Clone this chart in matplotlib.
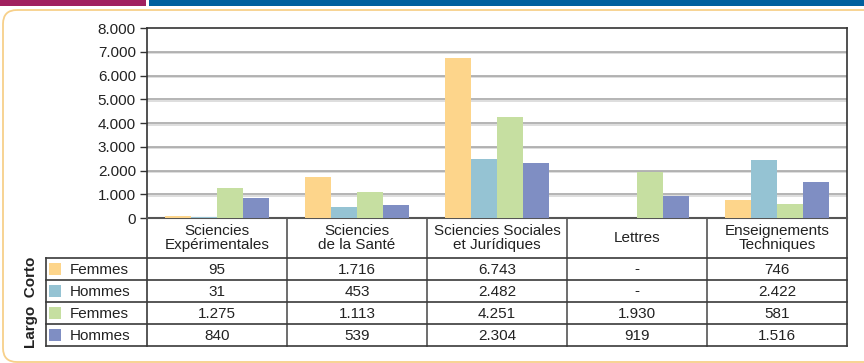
import numpy as np
import matplotlib
matplotlib.use("Agg")
import matplotlib.pyplot as plt
import matplotlib.patheffects as pe
from matplotlib.patches import Rectangle, FancyBboxPatch
from matplotlib.lines import Line2D
from matplotlib.ticker import FuncFormatter, MultipleLocator

plt.rcParams['font.family'] = ['Liberation Sans', 'DejaVu Sans']

categories = ["Sciencies\nExpérimentales", "Sciencies\nde la Santé",
              "Sciencies Sociales\net Jurídiques", "Lettres",
              "Enseignements\nTechniques"]
series_labels = ["Femmes", "Hommes", "Femmes", "Hommes"]
group_label = "Largo  Corto"
corto_femmes = [95, 1716, 6743, np.nan, 746]
corto_hommes = [31, 453, 2482, np.nan, 2422]
largo_femmes = [1275, 1113, 4251, 1930, 581]
largo_hommes = [840, 539, 2304, 919, 1516]
series = [corto_femmes, corto_hommes, largo_femmes, largo_hommes]
colors = ["#FDD58B", "#95C3D3", "#C6DFA1", "#7F8EC3"]
y_max = 8000
y_step = 1000

W, H = 864, 363
fig = plt.figure(figsize=(W / 100, H / 100), dpi=100)
FS = 11

def fmt(v):
    if v is None or (isinstance(v, float) and np.isnan(v)):
        return "-"
    return f"{int(round(v)):,}".replace(",", ".")

# overlay axes in pixel coords for decoration/table
ov = fig.add_axes([0, 0, 1, 1])
ov.set_xlim(0, W)
ov.set_ylim(H, 0)
ov.axis("off")
ov.add_patch(Rectangle((0, 0), 146, 6, color="#A0205F", lw=0))
ov.add_patch(Rectangle((149, 0), W - 149, 6, color="#00609F", lw=0))
ov.add_patch(FancyBboxPatch((3, 10), 900, 352, boxstyle="round,pad=0,rounding_size=14",
                            fc="none", ec="#F7D08A", lw=1.3))

# chart axes
left, right, top, base = 147, 847, 28, 218
ax = fig.add_axes([left / W, (H - base) / H, (right - left) / W, (base - top) / H])
n = len(categories)
x = np.arange(n) + 0.5
bw = 26 / 140
for i, (vals, c) in enumerate(zip(series, colors)):
    v = np.nan_to_num(np.array(vals, dtype=float))
    ax.bar(x + (i - 1.5) * bw, v, width=bw, color=c, lw=0, zorder=3)
ax.set_xlim(0, n)
ax.set_ylim(0, y_max)
ax.yaxis.set_major_locator(MultipleLocator(y_step))
ax.yaxis.set_major_formatter(FuncFormatter(lambda v, p: fmt(v)))
ax.set_xticks([])
ax.tick_params(axis="y", length=5, width=1, color="#333333", labelsize=FS,
               labelcolor="#222222", pad=3)
for yv in np.arange(y_step, y_max, y_step):
    ax.axhline(yv, color="#A8A8A8", lw=1.2, zorder=1,
               path_effects=[pe.SimpleLineShadow(offset=(0, -1.2), shadow_color="#D8D8D8", alpha=1),
                             pe.Normal()])
for s in ax.spines.values():
    s.set_color("#333333")
    s.set_linewidth(1.2)
ax.spines["bottom"].set_color("#555555")
ax.spines["bottom"].set_linewidth(1.5)

# table
row_tops = [218, 258, 280, 302, 324, 346]
col_x = [left + 140 * k for k in range(n + 1)]
leg_left = 46
lc = "#3A3A3A"
for k, cx in enumerate(col_x):
    ov.add_line(Line2D([cx, cx], [218, 346], color=lc if k in (0, n) else "#555555", lw=1.2))
for r in row_tops[1:]:
    ov.add_line(Line2D([leg_left, right], [r, r], color=lc, lw=1.2))
ov.add_line(Line2D([leg_left, leg_left], [258, 346], color=lc, lw=1.2))
for j, cat in enumerate(categories):
    ov.text(col_x[j] + 70, 238, cat, ha="center", va="center", fontsize=FS,
            color="#222222", linespacing=0.92)
for i, (vals, c, lab) in enumerate(zip(series, colors, series_labels)):
    y0, y1 = row_tops[i + 1], row_tops[i + 2]
    yc = (y0 + y1) / 2
    ov.add_patch(Rectangle((49, yc - 6), 12, 12, color=c, lw=0))
    ov.text(70, yc + 0.5, lab, ha="left", va="center", fontsize=FS, color="#222222")
    for j, v in enumerate(vals):
        ov.text(col_x[j] + 70, yc + 0.5, fmt(v), ha="center", va="center",
                fontsize=FS, color="#222222")
ov.text(31, 302, group_label, rotation=90, ha="center", va="center",
        fontsize=FS, fontweight="bold", color="#222222")

fig.savefig("out.png", dpi=100)
